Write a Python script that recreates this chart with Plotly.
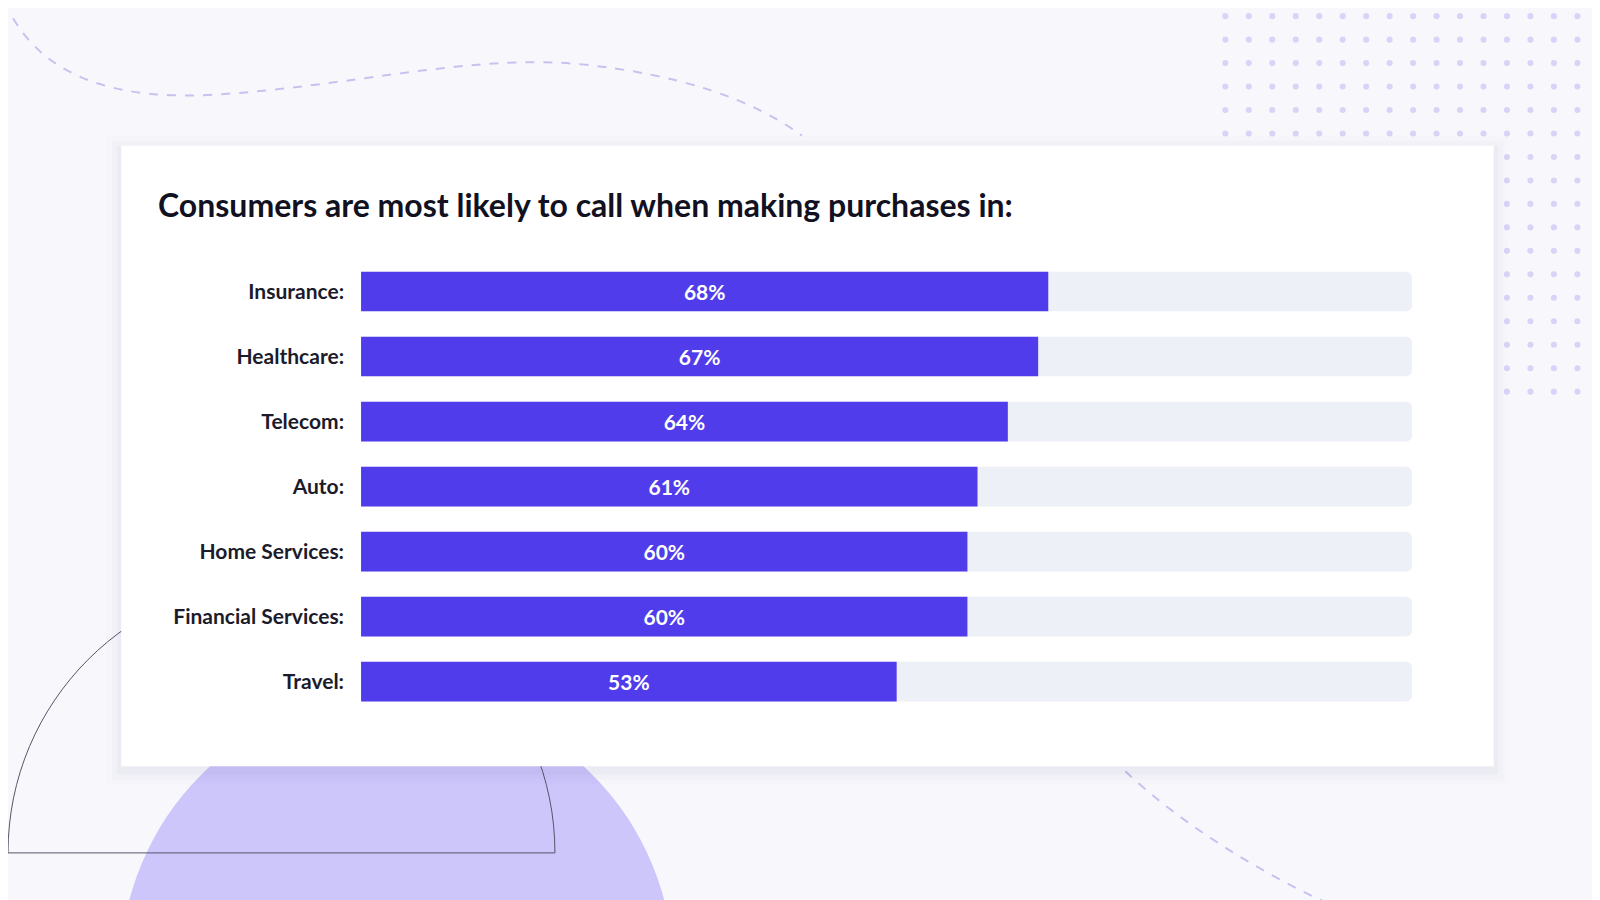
import plotly.graph_objects as go

# data
categories = ['Insurance:', 'Healthcare:', 'Telecom:', 'Auto:', 'Home Services:',
              'Financial Services:', 'Travel:']
values = [68, 67, 64, 61, 60, 60, 53]
track_max = 104
title = 'Consumers are most likely to call when making purchases in:'

W, H = 1568.0, 882.0  # reference pixel grid used for decoration placement


def px(x):
    return x / W


def py(y):
    return 1 - y / H


def path(cmds):
    # cmds: list of (letter, [x, y, x, y, ...]) in reference pixels -> paper coords
    out = []
    for letter, pts in cmds:
        coords = []
        for i in range(0, len(pts), 2):
            coords.append(f'{px(pts[i]):.5f},{py(pts[i + 1]):.5f}')
        out.append(letter + ' ' + ' '.join(coords))
    return ' '.join(out)


fig = go.Figure()

fig.add_trace(go.Bar(y=categories, x=[track_max] * len(categories), orientation='h',
                     marker=dict(color='#eef0f8', line=dict(width=0)),
                     hoverinfo='skip', showlegend=False))
fig.add_trace(go.Bar(y=categories, x=values, orientation='h',
                     marker=dict(color='#503ceb', line=dict(width=0)),
                     text=[f'{v}%' for v in values], textposition='inside',
                     insidetextanchor='middle',
                     textfont=dict(color='white', size=21, family='Lato', weight='bold'),
                     showlegend=False))

shapes = []
# dot grid top-right
for row in range(17):
    yy = 8 + row * 23
    for col in range(17):
        xx = 1193 + col * 23
        if xx > 1565:
            continue
        if row > 5 and xx < 1460:
            continue
        shapes.append(dict(type='circle', xref='paper', yref='paper', layer='below',
                           x0=px(xx - 3), x1=px(xx + 3), y0=py(yy + 3), y1=py(yy - 3),
                           fillcolor='#d9d4f7', line=dict(width=0)))
# dashed curves
shapes.append(dict(type='path', xref='paper', yref='paper', layer='below',
                   path=path([('M', [5, 10]), ('C', [40, 70, 110, 90, 200, 85]),
                              ('C', [330, 78, 450, 45, 560, 55]),
                              ('C', [660, 65, 730, 90, 778, 125])]),
                   line=dict(color='#c8c1f0', width=2, dash='dash')))
shapes.append(dict(type='path', xref='paper', yref='paper', layer='below',
                   path=path([('M', [1095, 748]), ('C', [1150, 800, 1230, 850, 1310, 885])]),
                   line=dict(color='#c8c1f0', width=2, dash='dash')))
# purple circle
shapes.append(dict(type='circle', xref='paper', yref='paper', layer='below',
                   x0=px(381 - 271), x1=px(381 + 271), y0=py(943 + 271), y1=py(943 - 271),
                   fillcolor='#cdc6fb', line=dict(width=0)))
# outline half circle
shapes.append(dict(type='path', xref='paper', yref='paper', layer='below',
                   path=path([('M', [0, 828]), ('C', [0, 680, 120, 560, 268, 560]),
                              ('C', [416, 560, 536, 680, 536, 828])]) + ' Z',
                   line=dict(color='#55556a', width=1)))
# card shadow + card
for i, op in enumerate([0.015, 0.02, 0.03]):
    d = 14 - i * 5
    shapes.append(dict(type='rect', xref='paper', yref='paper', layer='below',
                       x0=px(111 - d), x1=px(1456 + d), y0=py(743 + d + 4), y1=py(135 - d + 4),
                       fillcolor=f'rgba(60,60,120,{op})', line=dict(width=0)))
shapes.append(dict(type='rect', xref='paper', yref='paper', layer='below',
                   x0=px(111), x1=px(1456), y0=py(743), y1=py(135),
                   fillcolor='white', line=dict(width=0)))

fig.update_layout(
    width=1600, height=900,
    margin=dict(l=0, r=0, t=0, b=0),
    paper_bgcolor='#f8f8fc', plot_bgcolor='rgba(0,0,0,0)',
    barmode='overlay', bargap=0.39, barcornerradius=6,
    shapes=shapes,
    xaxis=dict(domain=[px(346), px(1376)], range=[0, track_max], visible=False, fixedrange=True),
    yaxis=dict(domain=[py(692), py(246)], autorange='reversed',
               showgrid=False, zeroline=False, showline=False, ticks='',
               ticklabelstandoff=16,
               tickfont=dict(family='Lato', size=21, color='#1b1b2b', weight='bold')),
    annotations=[dict(text=title, xref='paper', yref='paper', x=px(145), y=py(193),
                      xanchor='left', yanchor='middle', showarrow=False,
                      font=dict(family='Lato', size=32, color='#111122', weight='bold'))],
)

fig.write_html("out.html")
